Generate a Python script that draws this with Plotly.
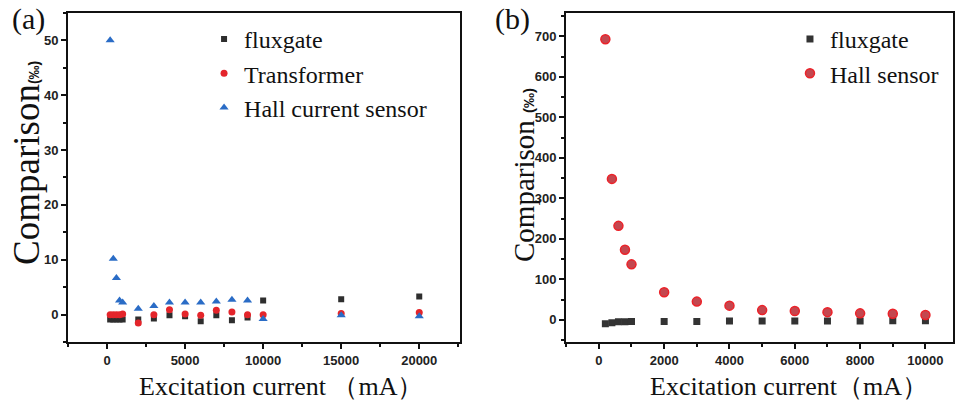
import plotly.graph_objects as go

# ---- Panel (a) data ----
a_current = [200, 400, 600, 800, 1000, 2000, 3000, 4000, 5000, 6000, 7000, 8000, 9000, 10000, 15000, 20000]
a_fluxgate = [-0.9, -0.9, -0.9, -0.9, -0.9, -0.9, -0.7, -0.1, -0.3, -1.2, -0.1, -1.0, -0.5, 2.6, 2.8, 3.3]
a_transformer = [0.0, 0.0, 0.0, 0.0, 0.1, -1.5, 0.0, 0.9, 0.1, -0.1, 0.8, 0.5, 0.0, 0.0, 0.2, 0.4]
a_hall = [50.0, 10.2, 6.7, 2.6, 2.2, 1.1, 1.6, 2.2, 2.2, 2.2, 2.4, 2.7, 2.6, -0.8, -0.1, -0.3]

# ---- Panel (b) data ----
b_current = [200, 400, 600, 800, 1000, 2000, 3000, 4000, 5000, 6000, 7000, 8000, 9000, 10000]
b_fluxgate = [-10, -7, -5, -5, -4, -4, -4, -3, -3, -3, -3, -3, -2, -2]
b_hall = [693, 348, 232, 173, 137, 68, 45, 35, 24, 22, 19, 16, 15, 12]

fig = go.Figure()

fig.add_trace(go.Scatter(x=a_current, y=a_fluxgate, mode="markers", name="fluxgate",
                         marker=dict(symbol="square", size=6, color="#2e2e2e", line=dict(width=0)),
                         xaxis="x", yaxis="y", legend="legend"))
fig.add_trace(go.Scatter(x=a_current, y=a_transformer, mode="markers", name="Transformer",
                         marker=dict(symbol="circle", size=7, color="#e4252b", line=dict(width=0)),
                         xaxis="x", yaxis="y", legend="legend"))
fig.add_trace(go.Scatter(x=a_current, y=a_hall, mode="markers", name="Hall current sensor",
                         marker=dict(symbol="triangle-up", size=8, color="#2a6cc6", line=dict(width=0)),
                         xaxis="x", yaxis="y", legend="legend"))

fig.add_trace(go.Scatter(x=b_current, y=b_fluxgate, mode="markers", name="fluxgate",
                         marker=dict(symbol="square", size=7, color="#333333", line=dict(width=0)),
                         xaxis="x2", yaxis="y2", legend="legend2"))
fig.add_trace(go.Scatter(x=b_current, y=b_hall, mode="markers", name="Hall sensor",
                         marker=dict(symbol="circle", size=9, color="#c4474f",
                                     line=dict(width=1.5, color="#ec2229")),
                         xaxis="x2", yaxis="y2", legend="legend2"))

tickfont = dict(family="Liberation Sans, Arial", size=13, color="#222222", weight="bold")
serif = "Liberation Serif, Times New Roman, serif"
ink = "#111111"

axis_common = dict(showgrid=False, zeroline=False, showline=True, linewidth=2, linecolor=ink,
                   mirror=True, ticks="outside", ticklen=5, tickwidth=1.5, tickcolor=ink,
                   tickfont=tickfont, automargin=False, tickformat="d")


def minor(dt):
    return dict(ticks="outside", ticklen=3, dtick=dt, tick0=0, tickcolor=ink, tickwidth=1.5)


def ytitle(sep, size_unit):
    return ("Comparison%s<span style='font-family:Liberation Sans, Arial;font-size:%dpx;"
            "font-weight:bold'>(‰)</span>" % (sep, size_unit))


xt_a = "Excitation current （mA）"
xt_b = "Excitation current（mA）"

fig.update_layout(
    width=958, height=402,
    margin=dict(l=0, r=0, t=0, b=0),
    paper_bgcolor="white", plot_bgcolor="white",
    xaxis=dict(domain=[0.071, 0.480], range=[-2500, 22600], tick0=0, dtick=5000, minor=minor(2500),
               anchor="y", **axis_common),
    yaxis=dict(domain=[0.149, 0.968], range=[-5, 55], tick0=0, dtick=10, minor=minor(5),
               anchor="x", **axis_common),
    xaxis2=dict(domain=[0.591, 0.995], range=[-1000, 10850], tick0=0, dtick=2000, minor=minor(1000),
                anchor="y2", **axis_common),
    yaxis2=dict(domain=[0.149, 0.968], range=[-55, 758], tick0=0, dtick=100, minor=minor(50),
                anchor="x2", **axis_common),
    legend=dict(x=0.213, y=0.958, xanchor="left", yanchor="top", bgcolor="rgba(0,0,0,0)",
                font=dict(family=serif, size=24, color=ink), itemwidth=30, tracegroupgap=0),
    legend2=dict(x=0.8246, y=0.958, xanchor="left", yanchor="top", bgcolor="rgba(0,0,0,0)",
                 font=dict(family=serif, size=24, color=ink), itemwidth=30, tracegroupgap=0),
    annotations=[
        dict(text="(a)", x=0.0103, y=1.0, xref="paper", yref="paper", xanchor="left", yanchor="top",
             showarrow=False, font=dict(family=serif, size=30, color=ink)),
        dict(text="(b)", x=0.5143, y=1.0, xref="paper", yref="paper", xanchor="left", yanchor="top",
             showarrow=False, font=dict(family=serif, size=30, color=ink)),
        dict(text=ytitle("", 14), x=26 / 958, y=1 - 163 / 402, xref="paper", yref="paper",
             xanchor="center", yanchor="middle", textangle=-90, showarrow=False,
             font=dict(family=serif, size=37, color=ink)),
        dict(text=ytitle(" ", 15), x=524 / 958, y=1 - 175 / 402, xref="paper", yref="paper",
             xanchor="center", yanchor="middle", textangle=-90, showarrow=False,
             font=dict(family=serif, size=29, color=ink)),
        dict(text=xt_a, x=281 / 958, y=1 - 386 / 402, xref="paper", yref="paper",
             xanchor="center", yanchor="middle", showarrow=False,
             font=dict(family=serif, size=26, color=ink)),
        dict(text=xt_b, x=789 / 958, y=1 - 386 / 402, xref="paper", yref="paper",
             xanchor="center", yanchor="middle", showarrow=False,
             font=dict(family=serif, size=26, color=ink)),
    ],
)

fig.write_html("out.html", config={"displayModeBar": False},
               post_script="document.body.style.margin='0px';")
